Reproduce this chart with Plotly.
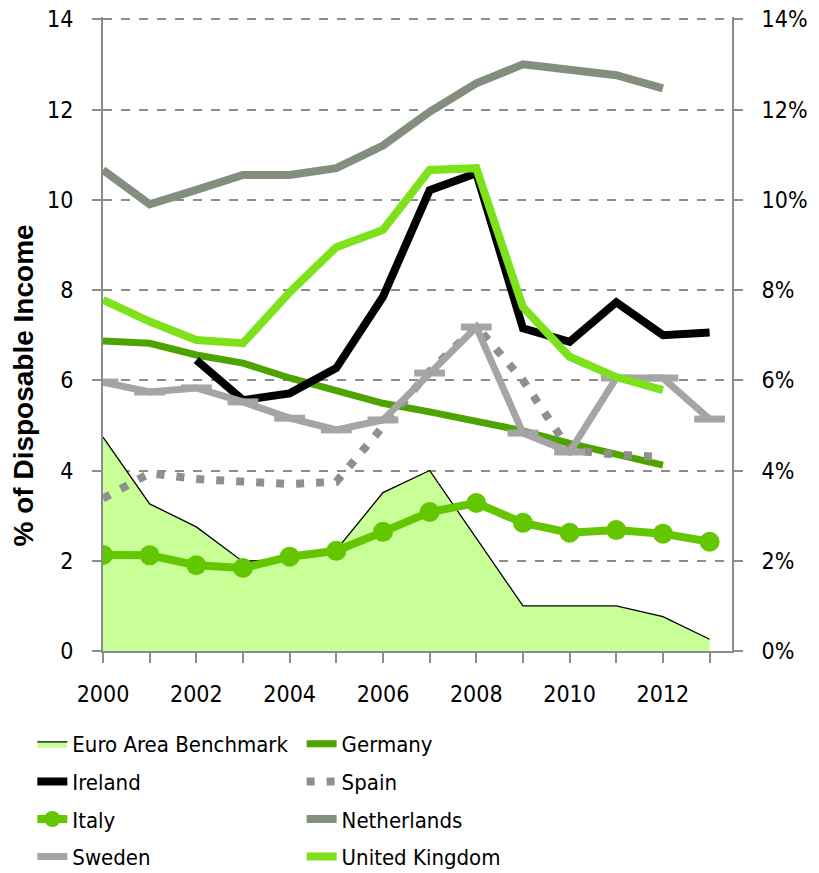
import plotly.graph_objects as go

years = list(range(2000, 2014))

euro_area = [4.74, 3.26, 2.75, 1.98, 2.05, 2.24, 3.51, 4.0, 2.5, 1.0, 1.0, 1.0, 0.76, 0.26]
germany = [6.87, 6.82, 6.56, 6.38, 6.05, 5.76, 5.49, 5.3, 5.1, 4.88, 4.6, 4.35, 4.12, None]
ireland = [None, None, 6.45, 5.56, 5.71, 6.27, 7.85, 10.21, 10.59, 7.15, 6.85, 7.73, 7.0, 7.06]
spain = [3.38, 3.94, 3.81, 3.75, 3.7, 3.75, 4.95, 6.2, 7.2, 6.0, 4.45, 4.35, 4.3, None]
italy = [2.13, 2.12, 1.9, 1.84, 2.09, 2.22, 2.64, 3.08, 3.28, 2.84, 2.62, 2.68, 2.6, 2.42]
netherlands = [10.66, 9.9, 10.22, 10.55, 10.55, 10.7, 11.2, 11.95, 12.58, 13.0, 12.88, 12.76, 12.47, None]
sweden = [5.96, 5.74, 5.83, 5.52, 5.16, 4.9, 5.12, 6.16, 7.18, 4.83, 4.41, 6.05, 6.05, 5.14]
uk = [7.78, 7.3, 6.89, 6.82, 7.95, 8.95, 9.33, 10.66, 10.7, 7.62, 6.52, 6.07, 5.78, None]

y_ticks = [0, 2, 4, 6, 8, 10, 12, 14]

FONT = "DejaVu Sans Condensed, Liberation Sans Narrow, Arial Narrow, sans-serif"
GRID = "#8c8c8c"

fig = go.Figure()

fig.add_trace(go.Scatter(
    x=years, y=euro_area, name="Euro Area Benchmark", mode="lines",
    fill="tozeroy", fillcolor="#c8ff96", line=dict(color="black", width=1.3),
    legend="legend", legendgroup="ea"))
fig.add_trace(go.Scatter(
    x=years, y=germany, name="Germany", mode="lines",
    line=dict(color="#4fa300", width=7), legend="legend2", legendgroup="de"))
fig.add_trace(go.Scatter(
    x=years, y=ireland, name="Ireland", mode="lines",
    line=dict(color="black", width=8), legend="legend", legendgroup="ie"))
fig.add_trace(go.Scatter(
    x=years, y=spain, name="Spain", mode="lines",
    line=dict(color="#8f8f8f", width=8, dash="8px,12px"), legend="legend2", legendgroup="es"))
fig.add_trace(go.Scatter(
    x=years, y=italy, name="Italy", mode="lines+markers",
    line=dict(color="#63c600", width=8), marker=dict(size=20, color="#63c600"),
    legend="legend", legendgroup="it"))
fig.add_trace(go.Scatter(
    x=years, y=netherlands, name="Netherlands", mode="lines",
    line=dict(color="#848e7e", width=8), legend="legend2", legendgroup="nl"))
fig.add_trace(go.Scatter(
    x=years, y=sweden, name="Sweden", mode="lines+markers",
    line=dict(color="#a5a5a5", width=7),
    marker=dict(symbol="line-ew", size=22, color="#a5a5a5", line=dict(color="#a5a5a5", width=7)),
    legend="legend", legendgroup="se"))
fig.add_trace(go.Scatter(
    x=years, y=uk, name="United Kingdom", mode="lines",
    line=dict(color="#7de11c", width=8), legend="legend2", legendgroup="uk"))
# invisible trace anchoring the right-hand percentage axis
fig.add_trace(go.Scatter(x=[years[0]], y=[0], yaxis="y2", mode="markers",
                         marker=dict(opacity=0), showlegend=False, hoverinfo="skip"))

fig.update_layout(
    width=819, height=873,
    margin=dict(l=95, r=95, t=9, b=230, autoexpand=False),
    paper_bgcolor="white", plot_bgcolor="white",
    font=dict(family=FONT, size=23, color="black"),
    xaxis=dict(
        range=[2000, 2013.48], tickvals=years[::2], ticktext=[str(y) for y in years[::2]],
        ticks="outside", ticklen=10, tickcolor=GRID, tickwidth=1.5, tickangle=0,
        minor=dict(tickvals=years, ticks="outside", ticklen=10, tickcolor=GRID, tickwidth=1.5),
        showline=True, linecolor=GRID, linewidth=2, showgrid=False, zeroline=False,
        ticklabelstandoff=11, tickfont=dict(size=23, family=FONT), ticklabeloverflow="allow",
    ),
    yaxis=dict(
        range=[0, 14.05], tickvals=y_ticks, ticks="outside", ticklen=9, tickcolor=GRID, tickwidth=1.5,
        showline=True, linecolor=GRID, linewidth=2, showgrid=True, gridcolor=GRID,
        griddash="dash", gridwidth=1.5, zeroline=False, ticklabeloverflow="allow",
        ticklabelstandoff=14, tickfont=dict(size=23, family=FONT),
    ),
    yaxis2=dict(
        range=[0, 0.1405], tickvals=[v / 100 for v in y_ticks], tickformat=".0%",
        overlaying="y", side="right", ticks="outside", ticklen=9, tickcolor=GRID, tickwidth=1.5,
        showline=True, linecolor=GRID, linewidth=2, showgrid=False, zeroline=False,
        ticklabelstandoff=14, tickfont=dict(size=23, family=FONT), ticklabeloverflow="allow",
    ),
    legend=dict(
        xref="container", yref="container", x=0.0297, y=0.181, xanchor="left", yanchor="top",
        orientation="v", tracegroupgap=6, font=dict(size=22, family=FONT),
        bgcolor="rgba(0,0,0,0)",
    ),
    legend2=dict(
        xref="container", yref="container", x=0.3585, y=0.181, xanchor="left", yanchor="top",
        orientation="v", tracegroupgap=6, font=dict(size=22, family=FONT),
        bgcolor="rgba(0,0,0,0)",
    ),
    annotations=[dict(
        text="<b>% of Disposable Income</b>", textangle=-90, xref="paper", yref="paper",
        x=-0.127, y=0.419, xanchor="center", yanchor="middle", showarrow=False,
        font=dict(size=28, family="Liberation Sans, Arial, sans-serif", color="black"),
    )],
)

fig.write_html("out.html")
